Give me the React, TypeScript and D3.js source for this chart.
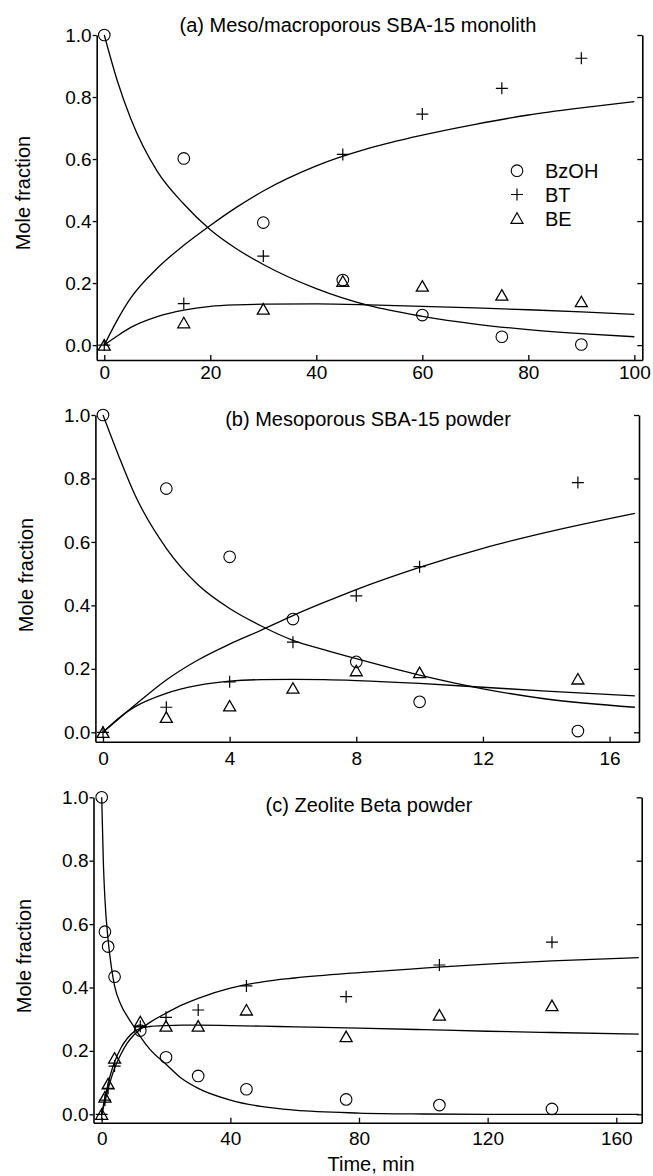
import React, { useEffect, useRef } from 'react';
import * as d3 from 'd3';

// ---- data ----
const yTicks = [0, 0.2, 0.4, 0.6, 0.8, 1.0];

// (a) meso/macroporous monolith
const aTime = [0, 15, 30, 45, 60, 75, 90];
const aBzOH = [1.0, 0.602, 0.395, 0.21, 0.097, 0.027, 0.002];
const aBT = [0.0, 0.134, 0.287, 0.615, 0.745, 0.828, 0.925];
const aBE = [0.0, 0.072, 0.116, 0.206, 0.19, 0.161, 0.14];
const aFitTime = [0, 2.5, 5, 10, 15, 20, 25, 30, 40, 50, 60, 70, 80, 90, 100];
const aFitBzOH = [1.0, 0.85, 0.73, 0.56, 0.455, 0.372, 0.31, 0.26, 0.182, 0.127, 0.093, 0.068, 0.05, 0.037, 0.027];
const aFitBT = [0.0, 0.082, 0.152, 0.248, 0.322, 0.386, 0.445, 0.497, 0.578, 0.635, 0.677, 0.712, 0.742, 0.765, 0.785];
const aFitBE = [0.0, 0.03, 0.057, 0.092, 0.113, 0.125, 0.13, 0.132, 0.133, 0.13, 0.125, 0.12, 0.114, 0.107, 0.099];
const aXTicks = [0, 20, 40, 60, 80, 100];

// (b) mesoporous powder
const bTime = [0, 2, 4, 6, 8, 10, 15];
const bBzOH = [1.0, 0.768, 0.553, 0.357, 0.222, 0.096, 0.004];
const bBT = [0.0, 0.079, 0.159, 0.284, 0.43, 0.522, 0.787];
const bBE = [0.0, 0.047, 0.083, 0.139, 0.194, 0.188, 0.168];
const bFitTime = [0, 0.5, 1, 2, 3, 4, 5, 6, 7, 8, 10, 12, 14, 16.8];
const bFitBzOH = [1.0, 0.87, 0.75, 0.58, 0.465, 0.39, 0.335, 0.29, 0.26, 0.232, 0.18, 0.137, 0.105, 0.079];
const bFitBT = [0.0, 0.043, 0.085, 0.165, 0.228, 0.278, 0.322, 0.368, 0.41, 0.45, 0.52, 0.58, 0.63, 0.69];
const bFitBE = [0.0, 0.045, 0.08, 0.123, 0.148, 0.161, 0.166, 0.167, 0.166, 0.163, 0.154, 0.142, 0.13, 0.115];
const bXTicks = [0, 4, 8, 12, 16];

// (c) zeolite beta powder
const cTime = [0, 1, 2, 4, 12, 20, 30, 45, 76, 105, 140];
const cBzOH = [1.0, 0.576, 0.529, 0.434, 0.264, 0.18, 0.121, 0.079, 0.047, 0.029, 0.017];
const cBT = [0.0, 0.045, 0.082, 0.152, 0.278, 0.306, 0.329, 0.405, 0.371, 0.471, 0.543];
const cBE = [0.0, 0.054, 0.096, 0.177, 0.292, 0.278, 0.278, 0.329, 0.245, 0.313, 0.343];
const cFitTime = [0, 0.5, 1, 2, 3, 4, 6, 8, 10, 12, 15, 20, 25, 30, 40, 50, 60, 80, 100, 120, 140, 167];
const cFitBzOH = [1.0, 0.8, 0.68, 0.55, 0.465, 0.405, 0.345, 0.308, 0.277, 0.245, 0.205, 0.158, 0.112, 0.082, 0.045, 0.024, 0.013, 0.004, 0.001, 0, 0, 0];
const cFitBT = [0.0, 0.02, 0.04, 0.08, 0.115, 0.145, 0.19, 0.225, 0.25, 0.268, 0.29, 0.319, 0.345, 0.366, 0.398, 0.418, 0.43, 0.447, 0.461, 0.474, 0.484, 0.494];
const cFitBE = [0.0, 0.027, 0.052, 0.097, 0.135, 0.165, 0.21, 0.24, 0.26, 0.271, 0.277, 0.28, 0.281, 0.281, 0.28, 0.278, 0.276, 0.272, 0.267, 0.262, 0.258, 0.253];
const cXTicks = [0, 40, 80, 120, 160];

const legendNames = ['BzOH', 'BT', 'BE'];

const FONT = "'Liberation Sans', Arial, Helvetica, sans-serif";

const panels = [
    {
        title: '(a) Meso/macroporous SBA-15 monolith', titleX: 358, titleY: 32,
        xDom: [-1.43, 101.5], xRange: [96.7, 642.3], yDom: [-0.048, 1.0], yRange: [360, 35],
        xTicks: aXTicks, pad: 6, ylabX: 23, ylabY: 193,
        time: aTime, bzoh: aBzOH, bt: aBT, be: aBE,
        fitT: aFitTime, fitBzOH: aFitBzOH, fitBT: aFitBT, fitBE: aFitBE, legend: true,
    },
    {
        title: '(b) Mesoporous SBA-15 powder', titleX: 368, titleY: 426,
        xDom: [-0.24, 16.93], xRange: [95.4, 639], yDom: [-0.0296, 1.0], yRange: [741.7, 415],
        xTicks: bXTicks, pad: 10, ylabX: 26, ylabY: 575,
        time: bTime, bzoh: bBzOH, bt: bBT, be: bBE,
        fitT: bFitTime, fitBzOH: bFitBzOH, fitBT: bFitBT, fitBE: bFitBE, legend: false,
    },
    {
        title: '(c) Zeolite Beta powder', titleX: 369, titleY: 812,
        xDom: [-2.55, 167.9], xRange: [93.5, 641.7], yDom: [-0.0265, 1.0], yRange: [1122.7, 797.3],
        xTicks: cXTicks, pad: 9, ylabX: 23.5, ylabY: 956,
        time: cTime, bzoh: cBzOH, bt: cBT, be: cBE,
        fitT: cFitTime, fitBzOH: cFitBzOH, fitBT: cFitBT, fitBE: cFitBE, legend: false,
    },
];

const triPath = 'M0,-5.5L6,5L-6,5Z';
const plusPath = 'M-6,0H6M0,-6V6';

function App() {
    const svgRef = useRef<SVGSVGElement>(null);

    useEffect(() => {
        const svg = d3.select(svgRef.current);
        svg.selectAll('*').remove();

        panels.forEach((p) => {
            const x = d3.scaleLinear().domain(p.xDom).range(p.xRange);
            const y = d3.scaleLinear().domain(p.yDom).range(p.yRange);
            const g = svg.append('g');

            // left axis, ticks outward
            const left = g.append('g')
                .attr('transform', `translate(${p.xRange[0]},0)`)
                .call(d3.axisLeft(y).tickValues(yTicks).tickFormat(d3.format('.1f')).tickSize(4).tickSizeOuter(0).tickPadding(1));
            // right axis, ticks inward
            const right = g.append('g')
                .attr('transform', `translate(${p.xRange[1]},0)`)
                .call(d3.axisLeft(y).tickValues(yTicks).tickFormat(() => '').tickSize(5).tickSizeOuter(0));
            // bottom axis, ticks inward
            const bottom = g.append('g')
                .attr('transform', `translate(0,${p.yRange[0]})`)
                .call(d3.axisBottom(x).tickValues(p.xTicks).tickSize(-5).tickSizeOuter(0).tickPadding(p.pad));

            [left, right, bottom].forEach((ax) => {
                ax.attr('font-size', 19).attr('font-family', FONT);
                ax.select('.domain').attr('stroke', '#000').attr('stroke-width', 1.6);
                ax.selectAll('.tick line').attr('stroke', '#000').attr('stroke-width', 1.3);
                ax.selectAll('.tick text').attr('fill', '#000');
            });

            g.append('text')
                .attr('x', p.titleX).attr('y', p.titleY)
                .attr('text-anchor', 'middle')
                .attr('font-size', 20).attr('font-family', FONT)
                .text(p.title);

            g.append('text')
                .attr('transform', `translate(${p.ylabX},${p.ylabY}) rotate(-90)`)
                .attr('text-anchor', 'middle').attr('dy', '0.35em')
                .attr('font-size', 20).attr('font-family', FONT)
                .text('Mole fraction');

            // fitted curves
            const line = d3.line<number>()
                .x((d, i) => x(p.fitT[i]))
                .y((d) => y(d))
                .curve(d3.curveMonotoneX);
            [p.fitBzOH, p.fitBT, p.fitBE].forEach((s) => {
                g.append('path')
                    .attr('d', line(s))
                    .attr('fill', 'none')
                    .attr('stroke', '#000')
                    .attr('stroke-width', 1.3);
            });

            // markers
            g.selectAll(null).data(p.bzoh).enter().append('circle')
                .attr('cx', (d, i) => x(p.time[i])).attr('cy', (d) => y(d))
                .attr('r', 5.8).attr('fill', 'none').attr('stroke', '#000').attr('stroke-width', 1.1);
            g.selectAll(null).data(p.bt).enter().append('path')
                .attr('d', plusPath)
                .attr('transform', (d, i) => `translate(${x(p.time[i])},${y(d)})`)
                .attr('fill', 'none').attr('stroke', '#000').attr('stroke-width', 1.2);
            g.selectAll(null).data(p.be).enter().append('path')
                .attr('d', triPath)
                .attr('transform', (d, i) => `translate(${x(p.time[i])},${y(d)})`)
                .attr('fill', 'none').attr('stroke', '#000').attr('stroke-width', 1.3);

            if (p.legend) {
                const lg = g.append('g').attr('transform', 'translate(517,170.7)');
                const shapes = ['circle', plusPath, triPath];
                legendNames.forEach((name, i) => {
                    const row = lg.append('g').attr('transform', `translate(0,${i * 23.8})`);
                    if (shapes[i] === 'circle') {
                        row.append('circle').attr('r', 5.8).attr('fill', 'none').attr('stroke', '#000').attr('stroke-width', 1.1);
                    } else {
                        row.append('path').attr('d', shapes[i]).attr('fill', 'none').attr('stroke', '#000').attr('stroke-width', 1.2);
                    }
                    row.append('text')
                        .attr('x', 28).attr('dy', '0.36em')
                        .attr('font-size', 20).attr('font-family', FONT)
                        .text(name);
                });
            }
        });

        svg.append('text')
            .attr('x', 371).attr('y', 1171)
            .attr('text-anchor', 'middle')
            .attr('font-size', 20).attr('font-family', FONT)
            .text('Time, min');
    }, []);

    return (
        <svg ref={svgRef} width={653} height={1176}
            style={{ position: 'absolute', left: 0, top: 0, background: '#fff' }} />
    );
}

export default App;
